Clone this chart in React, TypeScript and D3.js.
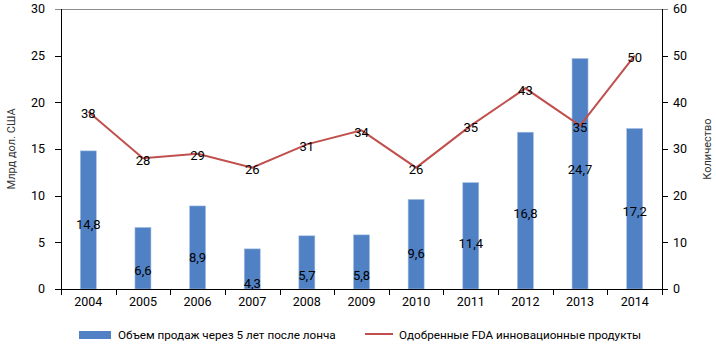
import { useEffect, useRef } from "react";
import * as d3 from "d3";

const years = ["2004", "2005", "2006", "2007", "2008", "2009", "2010", "2011", "2012", "2013", "2014"];
const sales = [14.8, 6.6, 8.9, 4.3, 5.7, 5.8, 9.6, 11.4, 16.8, 24.7, 17.2];
const approvals = [38, 28, 29, 26, 31, 34, 26, 35, 43, 35, 50];
const leftTicks = [0, 5, 10, 15, 20, 25, 30];
const rightTicks = [0, 10, 20, 30, 40, 50, 60];
const barLegend = "Объем продаж через 5 лет после лонча";
const lineLegend = "Одобренные FDA инновационные продукты";

const BLUE = "#4F81C4";
const RED = "#C0504D";
const FONT = "Roboto, 'DejaVu Sans', sans-serif";

export default function App() {
  const ref = useRef<HTMLDivElement>(null);

  useEffect(() => {
    const width = 716;
    const height = 352;
    const margin = { left: 61, right: 54, top: 9, bottom: 63 };
    const plotRight = width - margin.right;
    const plotBottom = height - margin.bottom;

    const x = d3.scaleBand<string>().domain(years).range([margin.left, plotRight]);
    const yL = d3.scaleLinear().domain([0, 30]).range([plotBottom, margin.top]);
    const yR = d3.scaleLinear().domain([0, 60]).range([plotBottom, margin.top]);

    const svg = d3
      .select(ref.current)
      .append("svg")
      .attr("width", width)
      .attr("height", height)
      .style("position", "absolute")
      .style("left", 0)
      .style("top", 0)
      .style("background", "#fff")
      .style("font-family", FONT);

    // top border (gray)
    svg
      .append("line")
      .attr("x1", margin.left - 6)
      .attr("x2", plotRight + 6)
      .attr("y1", margin.top + 0.5)
      .attr("y2", margin.top + 0.5)
      .attr("stroke", "#8c8c8c");

    // bars
    const barW = 16;
    svg
      .selectAll("rect.bar")
      .data(sales)
      .enter()
      .append("rect")
      .attr("class", "bar")
      .attr("x", (d, i) => x(years[i])! + x.bandwidth() / 2 - barW / 2)
      .attr("y", (d) => yL(d))
      .attr("width", barW)
      .attr("height", (d) => yL(0) - yL(d))
      .attr("fill", BLUE)
      .attr("stroke", "#a9c0e3")
      .attr("stroke-width", 0.6);

    // line
    const line = d3
      .line<number>()
      .x((d, i) => x(years[i])! + x.bandwidth() / 2)
      .y((d) => yR(d));

    svg
      .append("path")
      .attr("d", line(approvals))
      .attr("fill", "none")
      .attr("stroke", RED)
      .attr("stroke-width", 2);

    // axes
    const leftAxis = svg.append("g").attr("transform", `translate(${margin.left},0)`);
    leftAxis
      .append("line")
      .attr("x1", 0.5)
      .attr("x2", 0.5)
      .attr("y1", margin.top)
      .attr("y2", plotBottom)
      .attr("stroke", "#000");
    leftTicks.forEach((t) => {
      if (t !== 30) {
        leftAxis
          .append("line")
          .attr("x1", -6)
          .attr("x2", 1)
          .attr("y1", Math.round(yL(t)) + 0.5)
          .attr("y2", Math.round(yL(t)) + 0.5)
          .attr("stroke", "#000");
      }
      leftAxis
        .append("text")
        .attr("x", -16)
        .attr("y", yL(t))
        .attr("dy", "0.35em")
        .attr("text-anchor", "end")
        .attr("font-size", 12.5)
        .attr("fill", "#000")
        .text(t);
    });

    const rightAxis = svg.append("g").attr("transform", `translate(${plotRight},0)`);
    rightAxis
      .append("line")
      .attr("x1", 0.5)
      .attr("x2", 0.5)
      .attr("y1", margin.top)
      .attr("y2", plotBottom)
      .attr("stroke", "#000");
    rightTicks.forEach((t) => {
      if (t !== 60) {
        rightAxis
          .append("line")
          .attr("x1", 0)
          .attr("x2", 6)
          .attr("y1", Math.round(yR(t)) + 0.5)
          .attr("y2", Math.round(yR(t)) + 0.5)
          .attr("stroke", "#000");
      }
      rightAxis
        .append("text")
        .attr("x", 11)
        .attr("y", yR(t))
        .attr("dy", "0.35em")
        .attr("text-anchor", "start")
        .attr("font-size", 12.5)
        .attr("fill", "#000")
        .text(t);
    });

    // bottom axis
    svg
      .append("line")
      .attr("x1", margin.left)
      .attr("x2", plotRight + 1)
      .attr("y1", plotBottom + 0.5)
      .attr("y2", plotBottom + 0.5)
      .attr("stroke", "#000");
    const edges = years.map((y) => x(y)!).concat([plotRight]);
    edges.forEach((e) => {
      svg
        .append("line")
        .attr("x1", Math.round(e) + 0.5)
        .attr("x2", Math.round(e) + 0.5)
        .attr("y1", plotBottom)
        .attr("y2", plotBottom + 6)
        .attr("stroke", "#000");
    });
    years.forEach((y) => {
      svg
        .append("text")
        .attr("x", x(y)! + x.bandwidth() / 2)
        .attr("y", plotBottom + 13)
        .attr("dy", "0.35em")
        .attr("text-anchor", "middle")
        .attr("font-size", 12.5)
        .attr("fill", "#000")
        .text(y);
    });

    // axis titles
    svg
      .append("text")
      .attr("transform", `translate(11,${(margin.top + plotBottom) / 2}) rotate(-90)`)
      .attr("text-anchor", "middle")
      .attr("dy", "0.35em")
      .attr("font-size", 11)
      .attr("fill", "#333")
      .text("Млрд дол. США");
    svg
      .append("text")
      .attr("transform", `translate(707,${(margin.top + plotBottom) / 2}) rotate(-90)`)
      .attr("text-anchor", "middle")
      .attr("dy", "0.35em")
      .attr("font-size", 11)
      .attr("fill", "#333")
      .text("Количество");

    // bar labels (placed inside bars, lower than center like the original)
    svg
      .selectAll("text.barlabel")
      .data(sales)
      .enter()
      .append("text")
      .attr("class", "barlabel")
      .attr("x", (d, i) => x(years[i])! + x.bandwidth() / 2)
      .attr("y", (d) => yL(Math.max(0.6, d * 0.6 - 2)))
      .attr("dy", "0.35em")
      .attr("text-anchor", "middle")
      .attr("font-size", 13)
      .attr("fill", "#000")
      .text((d) => String(d).replace(".", ","));

    // line labels
    svg
      .selectAll("text.linelabel")
      .data(approvals)
      .enter()
      .append("text")
      .attr("class", "linelabel")
      .attr("x", (d, i) => x(years[i])! + x.bandwidth() / 2)
      .attr("y", (d) => yR(d) + 2)
      .attr("dy", "0.35em")
      .attr("text-anchor", "middle")
      .attr("font-size", 13)
      .attr("fill", "#000")
      .text((d) => d);

    // legend
    const ly = 335;
    svg
      .append("rect")
      .attr("x", 79)
      .attr("y", ly - 4)
      .attr("width", 32)
      .attr("height", 8)
      .attr("fill", BLUE);
    svg
      .append("text")
      .attr("x", 118)
      .attr("y", ly)
      .attr("dy", "0.35em")
      .attr("font-size", 11.7)
      .attr("fill", "#000")
      .text(barLegend);
    svg
      .append("line")
      .attr("x1", 365)
      .attr("x2", 393)
      .attr("y1", ly - 1)
      .attr("y2", ly - 1)
      .attr("stroke", RED)
      .attr("stroke-width", 2);
    svg
      .append("text")
      .attr("x", 399)
      .attr("y", ly)
      .attr("dy", "0.35em")
      .attr("font-size", 11.7)
      .attr("fill", "#000")
      .text(lineLegend);

    return () => {
      d3.select(ref.current).select("svg").remove();
    };
  }, []);

  return <div ref={ref}></div>;
}
